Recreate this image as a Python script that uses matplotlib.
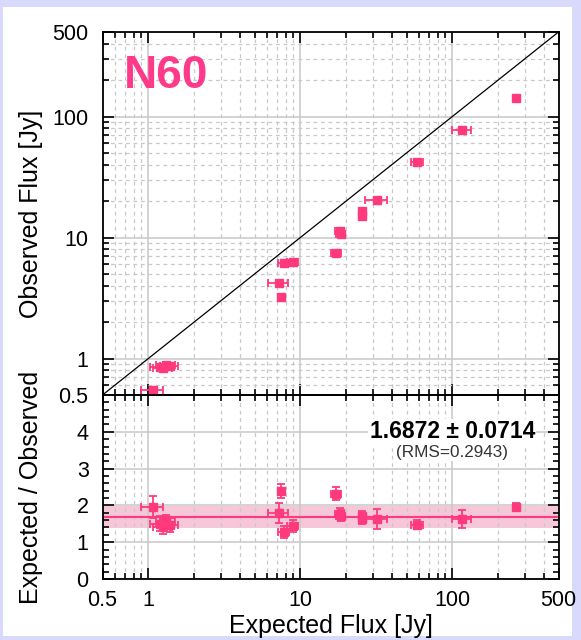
import matplotlib
matplotlib.use("Agg")
import matplotlib.pyplot as plt
from matplotlib.patches import Rectangle
from matplotlib.ticker import LogLocator, NullFormatter, FixedLocator, MultipleLocator
import numpy as np

plt.rcParams['font.family'] = ['Liberation Sans', 'DejaVu Sans']

# ---------------- data ----------------
expected = [1.07, 1.19, 1.25, 1.31, 1.38, 7.24, 7.47, 7.81, 8.95, 17.2, 18.2, 18.4,
            25.3, 25.6, 31.9, 58.6, 116, 262]
observed = [0.547, 0.85, 0.83, 0.88, 0.87, 4.2, 3.21, 6.2, 6.27, 7.43, 11.3, 10.7,
            16.5, 15.0, 20.4, 42, 77, 143]
xerr_frac = [0.16, 0.14, 0.14, 0.14, 0.14, 0.15, 0.05, 0.08, 0.08, 0.08, 0.07, 0.07,
             0.04, 0.04, 0.16, 0.09, 0.14, 0.04]
yerr_frac = [0.02, 0.03, 0.03, 0.03, 0.03, 0.03, 0.03, 0.03, 0.03, 0.03, 0.04, 0.03,
             0.04, 0.03, 0.03, 0.03, 0.03, 0.03]
ratio = [1.96, 1.50, 1.42, 1.55, 1.47, 1.80, 2.40, 1.28, 1.44, 2.32, 1.77, 1.72,
         1.72, 1.63, 1.63, 1.47, 1.63, 1.96]
ratio_err = [0.29, 0.20, 0.20, 0.20, 0.20, 0.27, 0.19, 0.16, 0.16, 0.18, 0.15, 0.15,
             0.14, 0.14, 0.26, 0.12, 0.25, 0.10]
mean_ratio = 1.6872
mean_err = 0.0714
rms = 0.2943
label = "N60"

x_ticks = [0.5, 1, 10, 100, 500]
x_ticklabels = ["0.5", "1", "10", "100", "500"]
y_ticks = [0.5, 1, 10, 100, 500]
y_ticklabels = ["0.5", "1", "10", "100", "500"]
r_ticks = [0, 1, 2, 3, 4]

pink = '#ff3a7c'
band = '#f6c6d9'
gridc = '#c8c8c8'

W, H = 581, 640
fig = plt.figure(figsize=(W / 100, H / 100), dpi=100)
fig.patch.set_facecolor('#d9d9fb')
fig.patches.append(Rectangle((3 / W, 4 / H), (572 - 3) / W, (633 - 4) / H,
                             transform=fig.transFigure, facecolor='white',
                             edgecolor='none', zorder=-10))

left = 102.5 / W
right = 558.5 / W
ax1 = fig.add_axes([left, 1 - 395 / H, right - left, (395 - 32) / H])
ax2 = fig.add_axes([left, 1 - 579 / H, right - left, (579 - 395) / H], sharex=ax1)

for ax in (ax1, ax2):
    ax.set_facecolor('none')
    ax.set_xscale('log')
    ax.set_xlim(0.5, 500)
    ax.xaxis.set_major_locator(FixedLocator(x_ticks))
    ax.xaxis.set_minor_locator(LogLocator(base=10, subs=np.arange(2, 10)))
    ax.xaxis.set_minor_formatter(NullFormatter())
    ax.tick_params(which='both', direction='in', top=True, right=True,
                   labelsize=15.5, width=1.2, color='black')
    ax.tick_params(axis='y', pad=10)
    ax.tick_params(axis='x', pad=8)
    ax.tick_params(which='major', length=8)
    ax.tick_params(which='minor', length=4)
    ax.grid(which='major', color=gridc, lw=1.1, ls='-', zorder=0)
    ax.grid(which='minor', axis='x', color=gridc, lw=0.9, ls=(0, (3, 3)), zorder=0)
    for s in ax.spines.values():
        s.set_linewidth(1.3)

# top panel
ax1.set_yscale('log')
ax1.set_ylim(0.5, 500)
ax1.yaxis.set_major_locator(FixedLocator(y_ticks))
ax1.set_yticklabels(y_ticklabels)
ax1.yaxis.set_minor_locator(LogLocator(base=10, subs=np.arange(2, 10)))
ax1.yaxis.set_minor_formatter(NullFormatter())
ax1.grid(which='minor', axis='y', color=gridc, lw=0.9, ls=(0, (3, 3)), zorder=0)
ax1.tick_params(axis='x', labelbottom=False)
ax1.plot([0.5, 500], [0.5, 500], color='black', lw=0.9, zorder=2)
ex = np.array(expected)
ob = np.array(observed)
ax1.errorbar(ex, ob, xerr=ex * np.array(xerr_frac), yerr=ob * np.array(yerr_frac),
             fmt='s', color=pink, ms=5.5, elinewidth=1.3, capsize=3, capthick=1.3, zorder=3)
ax1.set_ylabel('Observed Flux [Jy]', fontsize=18)
ax1.text(0.046, 0.88, label, transform=ax1.transAxes, color='#ff3a8a',
         fontsize=33, fontweight='bold', ha='left', va='center')

# bottom panel
ax2.set_ylim(0, 5)
ax2.yaxis.set_major_locator(FixedLocator(r_ticks))
ax2.yaxis.set_minor_locator(MultipleLocator(0.2))
ax2.set_xticklabels(x_ticklabels)
ax2.axhspan(mean_ratio - rms, mean_ratio + rms, color=band, lw=0, zorder=1)
ax2.axhline(mean_ratio, color=pink, lw=1.5, zorder=2)
ax2.errorbar(ex, ratio, xerr=ex * np.array(xerr_frac), yerr=ratio_err,
             fmt='s', color=pink, ms=5.5, elinewidth=1.3, capsize=3, capthick=1.3, zorder=3)
ax2.set_xlabel('Expected Flux [Jy]', fontsize=18, labelpad=2)
ax2.set_ylabel('Expected / Observed', fontsize=18)
ax2.text(0.767, 0.80, f'{mean_ratio:.4f} \u00b1 {mean_err:.4f}', transform=ax2.transAxes,
         fontsize=16.5, fontweight='semibold', ha='center', va='center',
         bbox=dict(facecolor='white', edgecolor='none', pad=1))
ax2.text(0.767, 0.685, f'(RMS={rms:.4f})', transform=ax2.transAxes,
         fontsize=12.3, ha='center', va='center', color='#333333',
         bbox=dict(facecolor='white', edgecolor='none', pad=0.5))

ax1.yaxis.set_label_coords(-0.13, 0.5)
ax2.yaxis.set_label_coords(-0.13, 0.5)

fig.savefig('out.png', dpi=100, facecolor=fig.get_facecolor())
